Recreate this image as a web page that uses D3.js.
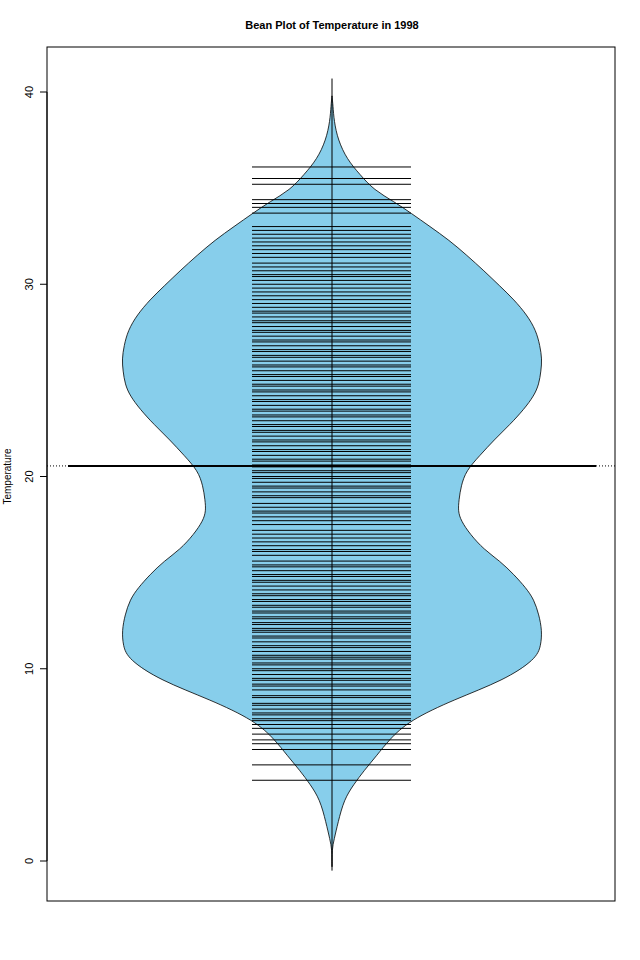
<!DOCTYPE html>
<html><head><meta charset="utf-8">
<script src="https://cdn.jsdelivr.net/npm/d3@7"></script>
<style>body{margin:0;background:#fff}text{font-family:"Liberation Sans",Arial,sans-serif}</style>
</head><body><div id="chart"></div>
<script>
// density outline: [temperature, half width in px]
const beanValues = [-0.3,0.6,1.1,2.0,3.2,4.0,4.7,5.5,6.3,7.3,8.4,9.4,10.5,11.2,12.0,12.8,13.6,14.2,14.9,15.6,16.2,17.0,17.7,18.2,18.8,19.5,20.3,21.1,21.9,22.7,23.5,24.2,24.8,25.5,26.1,26.8,27.6,28.4,29.2,29.9,30.7,31.5,32.3,33.0,33.7,34.3,34.9,35.7,36.5,37.5,38.5,39.3,39.8];
const beanWidths = [0,0,2,6,12,22,32,45,57,77,122,172,204,209,210,207,202,194,182,168,152,138,129,126,127,129,134,148,162,178,192,202,207,209,210,208,204,195,182,168,152,135,117,98,79,62,42,28,15,6,2,1,0];
// individual observations
const temps = [4.2,5.0,5.8,6.1,6.3,6.6,6.9,7.1,7.3,7.4,7.6,7.7,7.9,8.1,8.2,8.5,8.6,8.9,9.1,9.2,9.4,9.5,9.7,9.9,10.0,10.2,10.3,10.5,10.6,10.7,10.9,11.1,11.2,11.4,11.6,11.7,11.9,12.0,12.1,12.3,12.4,12.6,12.7,12.9,13.0,13.2,13.3,13.5,13.6,13.8,13.9,14.1,14.3,14.5,14.6,14.8,14.9,15.1,15.3,15.4,15.6,15.9,16.1,16.2,16.4,16.6,16.8,17.0,17.2,17.5,17.7,17.9,18.1,18.2,18.4,18.6,18.9,19.0,19.2,19.4,19.5,19.7,19.9,20.0,20.2,20.3,20.5,20.6,20.8,20.9,21.1,21.3,21.4,21.6,21.8,21.9,22.1,22.3,22.4,22.6,22.7,22.9,23.1,23.2,23.4,23.5,23.7,23.9,24.0,24.2,24.4,24.5,24.7,24.8,25.0,25.2,25.3,25.5,25.7,25.8,26.0,26.2,26.3,26.5,26.6,26.8,27.0,27.1,27.3,27.5,27.6,27.8,28.0,28.1,28.3,28.5,28.6,28.8,29.0,29.2,29.4,29.6,29.8,30.0,30.2,30.4,30.5,30.7,30.9,31.1,31.4,31.6,31.8,32.0,32.2,32.4,32.6,32.8,33.0,33.7,34.0,34.2,34.4,35.2,35.5,36.1];
const meanTemp = 20.55;
const yTicks = [0,10,20,30,40];

const W = 640, H = 960, L = 47, R = 615, T = 47, B = 901, cx = 332;
const svg = d3.select("#chart").append("svg").attr("width", W).attr("height", H);
const y = d3.scaleLinear().domain([0, 40]).range([861, 92]);

const bean = beanValues.map((v, i) => [v, beanWidths[i]]);
const area = d3.area().curve(d3.curveBasis)
  .y(d => y(d[0])).x0(d => cx - d[1]).x1(d => cx + d[1]);
svg.append("path").datum(bean).attr("d", area)
  .attr("fill", "#87ceeb").attr("stroke", "#000").attr("stroke-width", 0.8);

svg.selectAll(".bl").data(temps).enter().append("line")
  .attr("x1", 252).attr("x2", 411)
  .attr("y1", d => y(d)).attr("y2", d => y(d))
  .attr("stroke", "#000").attr("stroke-width", 1);

svg.append("line").attr("x1", cx).attr("x2", cx)
  .attr("y1", y(40.7)).attr("y2", y(-0.5)).attr("stroke", "#000");

svg.append("line").attr("x1", L).attr("x2", R)
  .attr("y1", y(meanTemp)).attr("y2", y(meanTemp))
  .attr("stroke", "#000").attr("stroke-dasharray", "1,2");
svg.append("line").attr("x1", 68).attr("x2", 596)
  .attr("y1", y(meanTemp)).attr("y2", y(meanTemp))
  .attr("stroke", "#000").attr("stroke-width", 2);

svg.append("rect").attr("x", L).attr("y", T).attr("width", R - L).attr("height", B - T)
  .attr("fill", "none").attr("stroke", "#000");

const ax = svg.append("g").attr("transform", `translate(${L},0)`)
  .call(d3.axisLeft(y).tickValues(yTicks).tickSize(7).tickFormat(d3.format("d")));
ax.select(".domain").attr("d", `M-7,${y(0)}H0V${y(40)}H-7`).attr("d", `M0,${y(0)}V${y(40)}`);
ax.selectAll("text").attr("transform", "rotate(-90)").attr("x", 0).attr("y", -14)
  .attr("dy", 0).attr("text-anchor", "middle").attr("font-size", 11).attr("fill", "#000");
ax.selectAll("text").each(function(d){ d3.select(this).attr("transform", `translate(-14,${y(d)}) rotate(-90)`).attr("x",0).attr("y",0); });
ax.selectAll(".tick").attr("transform", "translate(0,0)");
ax.selectAll(".tick line").attr("y1", d => y(d)).attr("y2", d => y(d));

svg.append("text").attr("x", 332).attr("y", 29).attr("text-anchor", "middle")
  .attr("font-size", 11).attr("font-weight", "bold").text("Bean Plot of Temperature in 1998");
svg.append("text").attr("transform", `translate(11,${y(20)}) rotate(-90)`)
  .attr("text-anchor", "middle").attr("font-size", 10).text("Temperature");
</script></body></html>
